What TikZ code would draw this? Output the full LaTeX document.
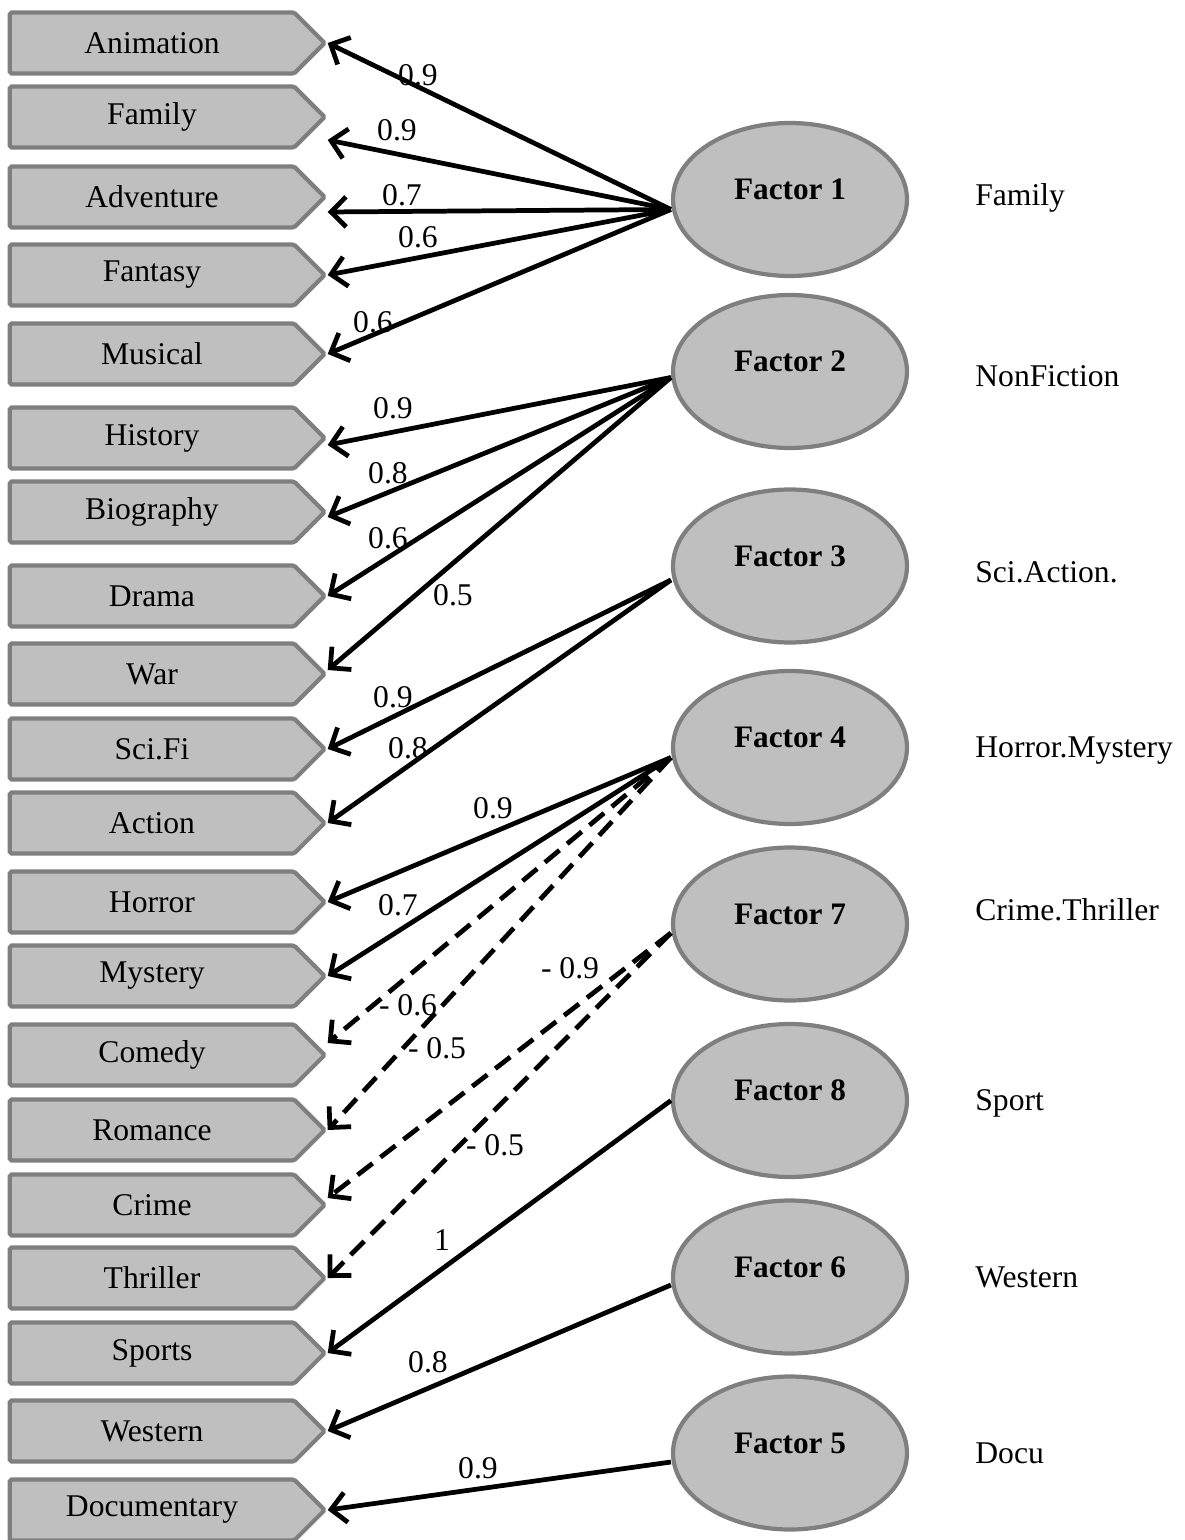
\documentclass[tikz,border=0pt]{standalone}
\usepackage{fontspec}
\setmainfont{Liberation Serif}
\usetikzlibrary{shapes.geometric,shapes.symbols,arrows.meta,positioning}
\definecolor{genrefill}{HTML}{BFBFBF}
\definecolor{genreline}{HTML}{7F7F7F}

\begin{document}
\begin{tikzpicture}[x=0.02cm,y=-0.02cm,font=\fontsize{18}{21}\selectfont,
  genre/.style={signal,signal to=east,signal pointer angle=90,draw=genreline,fill=genrefill,line width=2.4pt,minimum width=6.3cm,minimum height=1.22cm,inner sep=0pt,rounded corners=1pt},
  factor/.style={ellipse,draw=genreline,fill=genrefill,line width=2.4pt,minimum width=4.68cm,minimum height=3.06cm,font=\fontsize{17.8}{21}\selectfont\bfseries,text height=0.4cm,text depth=0.4cm},
  load/.style={-{Straight Barb[length=0.3cm,width=0.6cm]},line width=2.7pt},
  neg/.style={load,dash pattern=on 0.38cm off 0.2cm},
  wt/.style={inner sep=0pt},
  fname/.style={anchor=base west,inner sep=0pt}]
\useasboundingbox (0,0) rectangle (1185,1540);
% genres
\node[genre] (anim) at (152,43) {Animation};
\node[genre] (family) at (152,117) {Family};
\node[genre] (adv) at (152,197) {Adventure};
\node[genre] (fantasy) at (152,275) {Fantasy};
\node[genre] (musical) at (152,354) {Musical};
\node[genre] (history) at (152,438) {History};
\node[genre] (bio) at (152,512) {Biography};
\node[genre] (drama) at (152,596) {Drama};
\node[genre] (war) at (152,674) {War};
\node[genre] (scifi) at (152,749) {Sci.Fi};
\node[genre] (action) at (152,823) {Action};
\node[genre] (horror) at (152,902) {Horror};
\node[genre] (mystery) at (152,976) {Mystery};
\node[genre] (comedy) at (152,1055) {Comedy};
\node[genre] (romance) at (152,1130) {Romance};
\node[genre] (crime) at (152,1205) {Crime};
\node[genre] (thriller) at (152,1278) {Thriller};
\node[genre] (sports) at (152,1353) {Sports};
\node[genre] (western) at (152,1431) {Western};
\node[genre] (docu) at (152,1510) {Documentary};
% factors
\node[factor] (f1) at (790,199.5) {Factor 1};
\node[factor] (f2) at (790,371.5) {Factor 2};
\node[factor] (f3) at (790,566) {Factor 3};
\node[factor] (f4) at (790,747.5) {Factor 4};
\node[factor] (f7) at (790,924) {Factor 7};
\node[factor] (f8) at (790,1100.5) {Factor 8};
\node[factor] (f6) at (790,1277) {Factor 6};
\node[factor] (f5) at (790,1453) {Factor 5};
% factor names
\node[fname] (n1) at (975,206) {Family};
\node[fname] (n2) at (975,387) {NonFiction};
\node[fname] (n3) at (975,582) {Sci.Action.};
\node[fname] (n4) at (975,757) {Horror.Mystery};
\node[fname] (n7) at (975,920) {Crime.Thriller};
\node[fname] (n8) at (975,1110) {Sport};
\node[fname] (n6) at (975,1287) {Western};
\node[fname] (n5) at (975,1463) {Docu};
% loadings
\coordinate (s1) at ([yshift=-0.2cm]f1.west);
\coordinate (s2) at ([yshift=-0.12cm]f2.west);
\coordinate (s3) at ([yshift=-0.28cm]f3.west);
\coordinate (s4) at ([yshift=-0.2cm]f4.west);
\coordinate (s7) at ([yshift=-0.18cm]f7.west);
\coordinate (s8) at (f8.west);
\coordinate (s6) at ([yshift=-0.16cm]f6.west);
\coordinate (s5) at ([yshift=-0.18cm]f5.west);
\draw[load] (s1) -- (anim.east) node[wt] (w1) at (418,75) {0.9};
\draw[load] (s1) -- ([yshift=-0.46cm]family.east) node[wt] (w2) at (397,130) {0.9};
\draw[load] (s1) -- ([yshift=-0.3cm]adv.east) node[wt] (w3) at (402,195) {0.7};
\draw[load] (s1) -- (fantasy.east) node[wt] (w4) at (418,237) {0.6};
\draw[load] (s1) -- (musical.east) node[wt] (w5) at (373,322) {0.6};
\draw[load] (s2) -- ([yshift=-0.14cm]history.east) node[wt] (w6) at (393,408) {0.9};
\draw[load] (s2) -- ([yshift=-0.1cm]bio.east) node[wt] (w7) at (388,473) {0.8};
\draw[load] (s2) -- (drama.east) node[wt] (w8) at (388,538) {0.6};
\draw[load] (s2) -- ([yshift=0.08cm]war.east) node[wt] (w9) at (453,595) {0.5};
\draw[load] (s3) -- (scifi.east) node[wt] (w10) at (393,697) {0.9};
\draw[load] (s3) -- (action.east) node[wt] (w11) at (408,748) {0.8};
\draw[load] (s4) -- (horror.east) node[wt] (w12) at (493,808) {0.9};
\draw[load] (s4) -- (mystery.east) node[wt] (w13) at (398,905) {0.7};
\draw[neg] (s4) -- ([yshift=0.24cm]comedy.east) node[wt] (w14) at (408,1005) {- 0.6};
\draw[neg] (s4) -- (romance.east) node[wt] (w15) at (437,1048) {- 0.5};
\draw[neg] (s7) -- ([yshift=0.14cm]crime.east) node[wt] (w16) at (570,968) {- 0.9};
\draw[neg] (s7) -- (thriller.east) node[wt] (w17) at (495,1145) {- 0.5};
\draw[load] (s8) -- (sports.east) node[wt] (w18) at (442,1240) {1};
\draw[load] (s6) -- (western.east) node[wt] (w19) at (428,1362) {0.8};
\draw[load] (s5) -- (docu.east) node[wt] (w20) at (478,1468) {0.9};
\end{tikzpicture}
\end{document}
